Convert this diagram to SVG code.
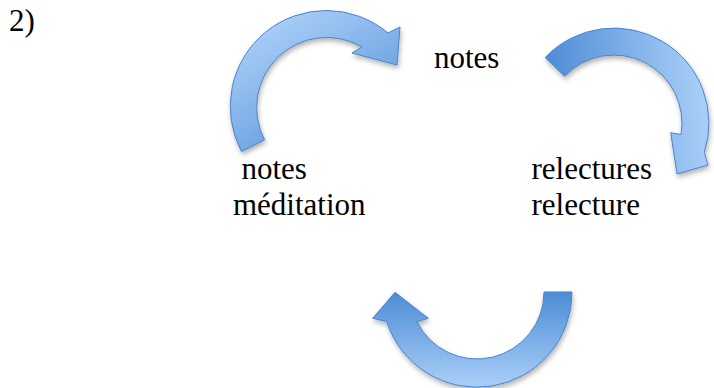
<svg xmlns="http://www.w3.org/2000/svg" width="714" height="388" viewBox="0 0 714 388">
  <defs>
    <style>
      text { font-family: "Liberation Serif", "Times New Roman", Times, "Noto Serif", "DejaVu Serif", FreeSerif, serif; font-size: 31px; fill: #000000; }
      .arr { stroke: #4a83c8; stroke-width: 1; stroke-linejoin: miter; filter: url(#shadow); }
    </style>
    <filter id="shadow" x="-20%" y="-20%" width="140%" height="140%">
      <feDropShadow dx="1" dy="3" stdDeviation="2.5" flood-color="#000000" flood-opacity="0.3"/>
    </filter>
    <linearGradient id="g1" x1="0.2" y1="0" x2="0.9" y2="1">
      <stop offset="0" stop-color="#b0d3fa"/>
      <stop offset="1" stop-color="#4e8dd6"/>
    </linearGradient>
    <linearGradient id="g2" x1="1" y1="0.2" x2="0" y2="0.3">
      <stop offset="0" stop-color="#aed2f9"/>
      <stop offset="1" stop-color="#4d8bd5"/>
    </linearGradient>
    <linearGradient id="g3" x1="0" y1="0" x2="0" y2="1">
      <stop offset="0" stop-color="#4d8cd6"/>
      <stop offset="1" stop-color="#a9cff8"/>
    </linearGradient>
  </defs>

  <g id="label-2">
    <text x="9" y="30.7">2)</text>
  </g>

  <g id="node-notes">
    <text x="434" y="68.3">notes</text>
  </g>

  <g id="node-notes-meditation">
    <text x="241.5" y="179.3">notes</text>
    <text x="233" y="215">méditation</text>
  </g>

  <g id="node-relectures">
    <text x="531.5" y="179.3">relectures</text>
    <text x="531.5" y="215">relecture</text>
  </g>

  <g id="connectors">
    <path id="arrow-1" class="arr" fill="url(#g1)" d="M 241.5,151.6 A 96 96 0 0 1 388,33 L 400,27 L 397,65 L 352,53 L 362,47 A 70 70 0 0 0 264.6,139.8 Z"/>
    <path id="arrow-2" class="arr" fill="url(#g2)" d="M 545.1,57.6 A 95 95 0 0 1 704.3,152.4 L 708,165 L 677,174 L 670.7,132.7 L 681,134.5 A 68 68 0 0 0 564.7,76.2 Z"/>
    <path id="arrow-3" class="arr" fill="url(#g3)" d="M 572,292 A 95 95 0 0 1 386.6,321.4 L 372.7,318.3 L 395,292.3 L 428.3,318.3 L 416.9,321.6 A 67 67 0 0 0 544,292 Z"/>
  </g>
</svg>
